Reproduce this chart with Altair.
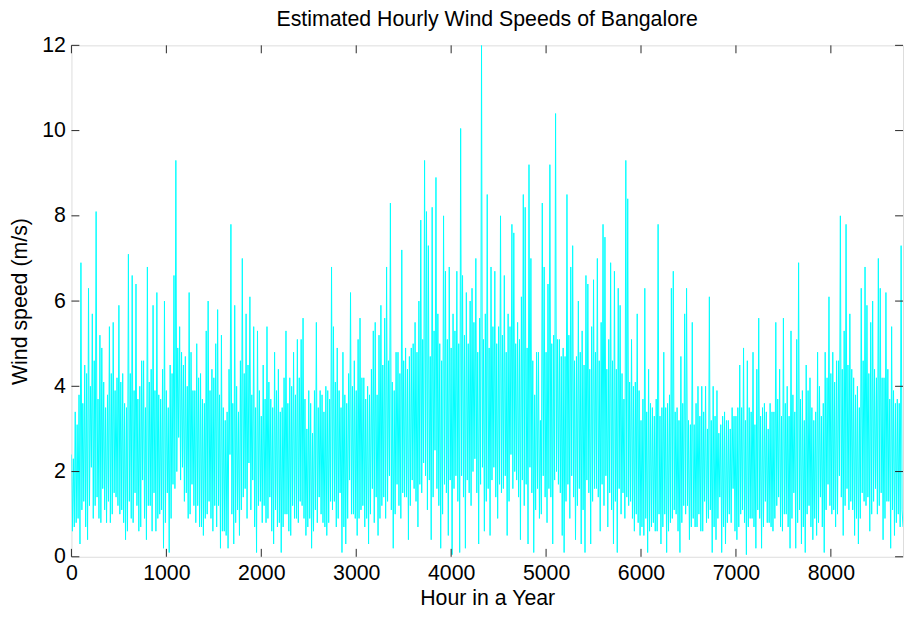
import altair as alt
import pandas as pd

TITLE = "Estimated Hourly Wind Speeds of Bangalore"
X_TITLE = "Hour in a Year"
Y_TITLE = "Wind speed (m/s)"
X_TICKS = [0, 1000, 2000, 3000, 4000, 5000, 6000, 7000, 8000]
Y_TICKS = [0, 2, 4, 6, 8, 10, 12]
X_MAX = 8760
Y_MAX = 12
WINDOW = 20  # hours per read-off window (two readings per window)

# first reading (m/s) of each 20-hour window, in blocks of 500 hours
speed_0000 = [0.6, 2.3, 0.8, 3.1, 0.3, 6.9, 1.3, 4.5, 0.4, 6.3, 2.1, 5.7, 1.2, 8.1, 0.9, 5.2, 1.6, 4.1, 0.8, 3.8, 5.4, 1.0, 5.5, 1.4, 4.2]
speed_0500 = [5.9, 1.1, 4.3, 0.4, 3.5, 7.1, 0.9, 6.6, 1.5, 6.4, 0.6, 4.0, 1.8, 4.6, 0.4, 6.8, 1.2, 4.4, 5.9, 0.6, 6.2, 1.0, 3.7, 0.2, 6.0]
speed_1000 = [1.5, 0.1, 4.5, 1.7, 6.6, 9.3, 2.8, 5.4, 4.8, 1.3, 4.7, 0.9, 6.2, 4.8, 1.2, 3.9, 5.0, 0.7, 4.3, 0.5, 3.6, 5.3, 6.0, 0.9, 4.4]
speed_1500 = [1.2, 5.0, 5.8, 0.2, 5.2, 0.6, 3.2, 0.2, 2.4, 7.8, 0.3, 5.9, 1.1, 3.4, 4.6, 7.0, 1.6, 5.7, 2.2, 6.1, 1.8, 5.4, 0.1, 5.3, 1.3]
speed_2000 = [3.3, 4.5, 0.8, 5.4, 1.4, 3.7, 0.3, 4.8, 0.7, 4.4, 0.1, 3.5, 1.0, 5.3, 0.6, 4.2, 1.2, 4.8, 0.9, 5.1, 1.3, 5.1, 5.6, 0.5, 3.0]
speed_2500 = [3.9, 0.2, 2.9, 1.1, 5.5, 1.4, 3.9, 0.8, 3.4, 0.5, 3.9, 1.3, 6.8, 5.4, 0.7, 4.9, 1.5, 0.1, 4.8, 0.3, 3.6, 1.8, 6.2, 1.0, 4.6]
speed_3000 = [0.5, 5.1, 5.6, 1.2, 4.2, 0.9, 0.3, 3.8, 1.6, 5.3, 5.5, 0.5, 5.2, 5.9, 1.4, 5.6, 6.8, 1.9, 8.3, 0.2, 3.9, 1.7, 4.8, 0.9, 7.2]
speed_3500 = [1.4, 4.9, 0.4, 4.7, 1.8, 5.0, 5.5, 0.7, 6.0, 7.9, 2.2, 9.3, 8.1, 7.3, 0.4, 8.2, 2.5, 8.9, 5.7, 0.2, 4.6, 8.0, 6.7, 0.5, 6.8]
speed_4000 = [0.05, 5.7, 1.9, 6.7, 0.1, 10.05, 6.6, 0.2, 6.2, 1.5, 6.0, 6.3, 2.3, 7.0, 0.3, 5.6, 12.0, 0.6, 5.7, 8.5, 0.5, 6.8, 2.1, 6.7, 0.9]
speed_4500 = [5.4, 8.0, 1.6, 6.6, 0.5, 5.7, 2.4, 7.8, 7.6, 1.8, 5.5, 0.4, 6.1, 8.5, 8.2, 0.3, 9.2, 7.0, 0.1, 3.8, 4.8, 0.9, 3.2, 8.3, 6.8]
speed_5000 = [0.8, 6.4, 9.2, 0.3, 5.2, 10.4, 1.7, 5.1, 0.5, 0.1, 4.7, 8.5, 0.9, 6.8, 7.3, 0.4, 4.7, 6.0, 0.3, 5.3, 0.1, 6.6, 6.4, 0.3, 5.4]
speed_5500 = [6.5, 1.6, 7.0, 0.6, 5.5, 7.8, 7.5, 0.7, 5.1, 6.9, 0.3, 6.7, 0.1, 6.3, 5.9, 1.5, 3.7, 9.3, 8.4, 1.3, 5.1, 0.6, 4.1, 5.7, 0.5]
speed_6000 = [3.2, 0.5, 6.3, 0.1, 4.4, 0.7, 3.5, 3.3, 0.6, 7.8, 0.3, 3.5, 4.8, 0.1, 3.6, 0.8, 6.3, 6.7, 1.0, 3.5, 0.1, 4.7, 1.2, 5.7, 6.3]
speed_6500 = [0.4, 3.1, 5.5, 0.7, 3.6, 4.0, 0.6, 4.0, 1.3, 4.0, 0.9, 6.1, 0.1, 4.0, 0.4, 3.9, 1.4, 0.1, 3.3, 0.3, 3.2, 1.0, 3.0, 1.6, 3.3]
speed_7000 = [0.4, 3.5, 4.5, 1.1, 4.9, 0.05, 4.6, 3.5, 0.9, 4.8, 0.2, 4.4, 5.6, 0.2, 3.5, 1.3, 3.4, 0.8, 3.6, 0.6, 3.4, 5.5, 1.4, 4.4, 0.6]
speed_7500 = [5.6, 1.0, 4.0, 0.2, 5.3, 1.5, 0.2, 5.1, 6.9, 0.3, 3.9, 0.1, 4.5, 1.2, 4.2, 0.4, 3.2, 0.5, 4.8, 1.4, 3.3, 0.1, 4.8, 1.7, 6.1]
speed_8000 = [1.0, 4.8, 0.7, 4.6, 1.9, 8.0, 0.5, 5.3, 7.8, 1.1, 5.7, 4.4, 0.5, 3.8, 0.3, 3.5, 6.3, 1.3, 6.8, 5.9, 0.6, 5.5, 6.0, 1.6, 4.2]
speed_8500 = [7.0, 6.3, 0.4, 4.2, 6.2, 1.3, 0.2, 5.4, 0.5, 3.6, 3.7, 0.7, 7.3, 0.7]

# second reading (m/s) of each 20-hour window (the other edge of the dense band)
other_0000 = [2.4, 0.7, 3.4, 0.9, 3.8, 1.1, 3.6, 0.7, 4.3, 1.2, 4.0, 0.9, 4.6, 1.4, 3.7, 0.8, 4.9, 1.1, 3.5, 1.3, 0.8, 4.3, 1.5, 3.9, 1.2]
other_0500 = [1.0, 4.1, 0.8, 3.6, 0.6, 1.3, 4.3, 0.8, 3.9, 1.2, 3.7, 0.7, 4.6, 0.9, 3.5, 1.2, 4.1, 0.6, 1.5, 3.9, 0.9, 3.8, 1.1, 4.4, 0.8]
other_1000 = [3.9, 3.5, 0.9, 4.3, 1.6, 2.0, 4.9, 1.8, 2.1, 4.5, 1.5, 4.0, 1.0, 1.7, 3.9, 0.8, 1.2, 4.2, 0.7, 3.7, 0.9, 1.0, 1.3, 3.9, 0.6]
other_1500 = [4.2, 0.7, 1.2, 3.8, 0.6, 3.5, 0.5, 3.4, 4.4, 1.0, 3.6, 0.8, 4.0, 0.5, 1.1, 1.4, 4.3, 0.9, 4.5, 1.1, 3.8, 0.7, 3.5, 1.2, 3.9]
other_2000 = [0.8, 1.2, 3.7, 0.9, 4.1, 0.6, 3.5, 1.1, 3.9, 0.8, 3.4, 0.7, 4.2, 1.0, 3.6, 0.5, 4.0, 0.9, 3.8, 0.8, 4.2, 1.2, 0.9, 3.7, 0.7]
other_2500 = [0.9, 3.6, 0.6, 3.9, 0.8, 3.5, 1.0, 3.8, 0.7, 4.0, 0.8, 3.7, 1.1, 1.3, 4.1, 0.9, 3.9, 3.5, 0.7, 3.8, 0.9, 4.3, 1.0, 4.0, 0.9]
other_3000 = [3.9, 0.9, 1.1, 4.2, 0.7, 3.7, 4.0, 1.0, 4.4, 0.8, 1.4, 3.8, 0.9, 1.2, 4.5, 0.9, 1.3, 4.6, 1.1, 4.1, 1.0, 4.8, 1.2, 4.3, 1.5]
other_3500 = [4.6, 1.4, 4.4, 1.2, 4.9, 1.6, 1.3, 4.8, 1.7, 1.5, 5.1, 1.9, 1.1, 1.8, 4.7, 1.4, 5.3, 1.6, 1.2, 5.0, 1.0, 1.7, 1.5, 5.1, 1.8]
other_4000 = [4.9, 1.6, 5.3, 1.3, 5.0, 1.9, 1.4, 5.2, 1.8, 5.0, 1.2, 2.0, 5.5, 1.5, 4.8, 1.7, 2.1, 5.1, 1.3, 1.6, 4.9, 1.8, 5.4, 1.4, 5.0]
other_4500 = [1.7, 1.5, 5.2, 1.9, 4.8, 1.3, 5.4, 1.6, 2.0, 5.0, 1.4, 5.1, 1.8, 1.2, 1.7, 4.9, 2.1, 1.5, 4.6, 1.1, 1.6, 4.8, 1.0, 1.9, 1.4]
other_5000 = [4.8, 1.6, 1.4, 5.0, 1.8, 2.0, 5.1, 1.5, 4.7, 4.9, 1.3, 1.7, 5.2, 1.9, 1.4, 4.6, 1.2, 1.6, 4.8, 1.1, 4.5, 1.8, 1.5, 4.4, 1.3]
other_5500 = [1.6, 4.8, 1.4, 4.6, 1.7, 1.2, 1.9, 4.4, 1.5, 1.1, 4.6, 1.3, 4.4, 1.6, 1.0, 4.3, 0.9, 1.4, 1.2, 4.1, 0.9, 4.0, 1.0, 0.8, 3.9]
other_6000 = [0.7, 3.7, 0.9, 3.4, 0.6, 3.6, 0.8, 0.6, 3.7, 1.0, 3.3, 0.7, 1.0, 3.5, 0.6, 3.8, 0.9, 1.1, 3.4, 0.6, 3.2, 0.8, 3.6, 1.0, 1.2]
other_6500 = [3.2, 0.7, 0.9, 3.1, 0.7, 1.0, 3.3, 0.6, 3.4, 0.8, 3.0, 1.1, 3.2, 0.7, 3.3, 0.9, 2.9, 3.1, 0.7, 3.4, 0.8, 3.2, 0.8, 3.5, 0.6]
other_7000 = [3.3, 0.7, 1.0, 3.5, 0.8, 3.2, 0.7, 0.9, 3.4, 0.7, 3.1, 1.1, 0.9, 3.3, 0.7, 3.6, 0.8, 3.0, 0.7, 3.4, 0.9, 1.2, 3.7, 0.7, 3.3]
other_7500 = [1.0, 3.6, 0.7, 3.3, 0.9, 3.8, 3.4, 0.8, 1.1, 3.7, 0.7, 3.2, 1.0, 3.9, 0.7, 3.5, 0.9, 3.4, 0.8, 4.0, 0.7, 3.6, 1.1, 4.2, 1.2]
other_8000 = [4.3, 1.1, 4.1, 1.0, 4.6, 1.4, 4.4, 1.2, 1.6, 4.5, 1.3, 1.1, 4.2, 0.9, 4.0, 0.9, 1.5, 4.6, 1.2, 1.4, 4.3, 1.0, 1.3, 4.4, 1.0]
other_8500 = [1.2, 1.5, 4.2, 0.9, 1.3, 4.4, 3.7, 1.1, 3.9, 0.8, 1.0, 3.6, 1.1, 0.2]

first = (speed_0000 + speed_0500 + speed_1000 + speed_1500 + speed_2000 + speed_2500
         + speed_3000 + speed_3500 + speed_4000 + speed_4500 + speed_5000 + speed_5500
         + speed_6000 + speed_6500 + speed_7000 + speed_7500 + speed_8000 + speed_8500)
second = (other_0000 + other_0500 + other_1000 + other_1500 + other_2000 + other_2500
          + other_3000 + other_3500 + other_4000 + other_4500 + other_5000 + other_5500
          + other_6000 + other_6500 + other_7000 + other_7500 + other_8000 + other_8500)

# each window is drawn as its higher reading, then its lower one, half a window later
hours, speeds = [], []
for i, (a, b) in enumerate(zip(first, second)):
    for j, v in enumerate((max(a, b), min(a, b))):
        h = i * WINDOW + j * WINDOW // 2
        if h <= X_MAX:
            hours.append(h)
            speeds.append(v)

df = pd.DataFrame({"hour": hours, "speed": speeds})
xt = pd.DataFrame({"t": X_TICKS})
yt = pd.DataFrame({"t": Y_TICKS})

W, H = 839, 516
FONT = "Liberation Sans"
FS = 21.5
TICK = 8

xscale = alt.Scale(domain=[0, X_MAX], nice=False, zero=False)
yscale = alt.Scale(domain=[0, Y_MAX], nice=False, zero=False)

line = alt.Chart(df).mark_line(color="#00FFFF", strokeWidth=1, clip=True).encode(
    x=alt.X("hour:Q", scale=xscale,
            axis=alt.Axis(values=X_TICKS, format="d", ticks=False, domain=False, grid=False,
                          labelFlush=False, labelOverlap=False, labelPadding=6,
                          labelFontSize=FS, labelFont=FONT, labelColor="black",
                          title=X_TITLE, titleFontSize=FS, titleFont=FONT,
                          titleFontWeight="normal", titleColor="black", titlePadding=4)),
    y=alt.Y("speed:Q", scale=yscale,
            axis=alt.Axis(values=Y_TICKS, format="d", ticks=False, domain=False, grid=False,
                          labelPadding=6, labelFontSize=FS, labelFont=FONT, labelColor="black",
                          title=Y_TITLE, titleFontSize=FS, titleFont=FONT,
                          titleFontWeight="normal", titleColor="black", titlePadding=10)),
)

tick_color = "#262626"
xb = alt.Chart(xt).mark_rule(color=tick_color, strokeWidth=1).encode(
    x=alt.X("t:Q", scale=xscale), y=alt.value(H), y2=alt.value(H - TICK))
xtop = alt.Chart(xt).mark_rule(color=tick_color, strokeWidth=1).encode(
    x=alt.X("t:Q", scale=xscale), y=alt.value(0), y2=alt.value(TICK))
yl = alt.Chart(yt).mark_rule(color=tick_color, strokeWidth=1).encode(
    y=alt.Y("t:Q", scale=yscale), x=alt.value(0), x2=alt.value(TICK))
yr = alt.Chart(yt).mark_rule(color=tick_color, strokeWidth=1).encode(
    y=alt.Y("t:Q", scale=yscale), x=alt.value(W), x2=alt.value(W - TICK))

chart = alt.layer(line, xb, xtop, yl, yr).properties(
    width=W, height=H,
    title=alt.TitleParams(TITLE, fontSize=FS, font=FONT, fontWeight="normal",
                          color="black", anchor="middle", offset=4),
    autosize=alt.AutoSizeParams(type="none"),
    padding={"left": 64, "top": 35, "right": 2, "bottom": 51},
).configure_view(stroke="#262626", strokeWidth=1).configure(background="white")

chart.save("out.html", embed_options={"renderer": "svg", "actions": False})
